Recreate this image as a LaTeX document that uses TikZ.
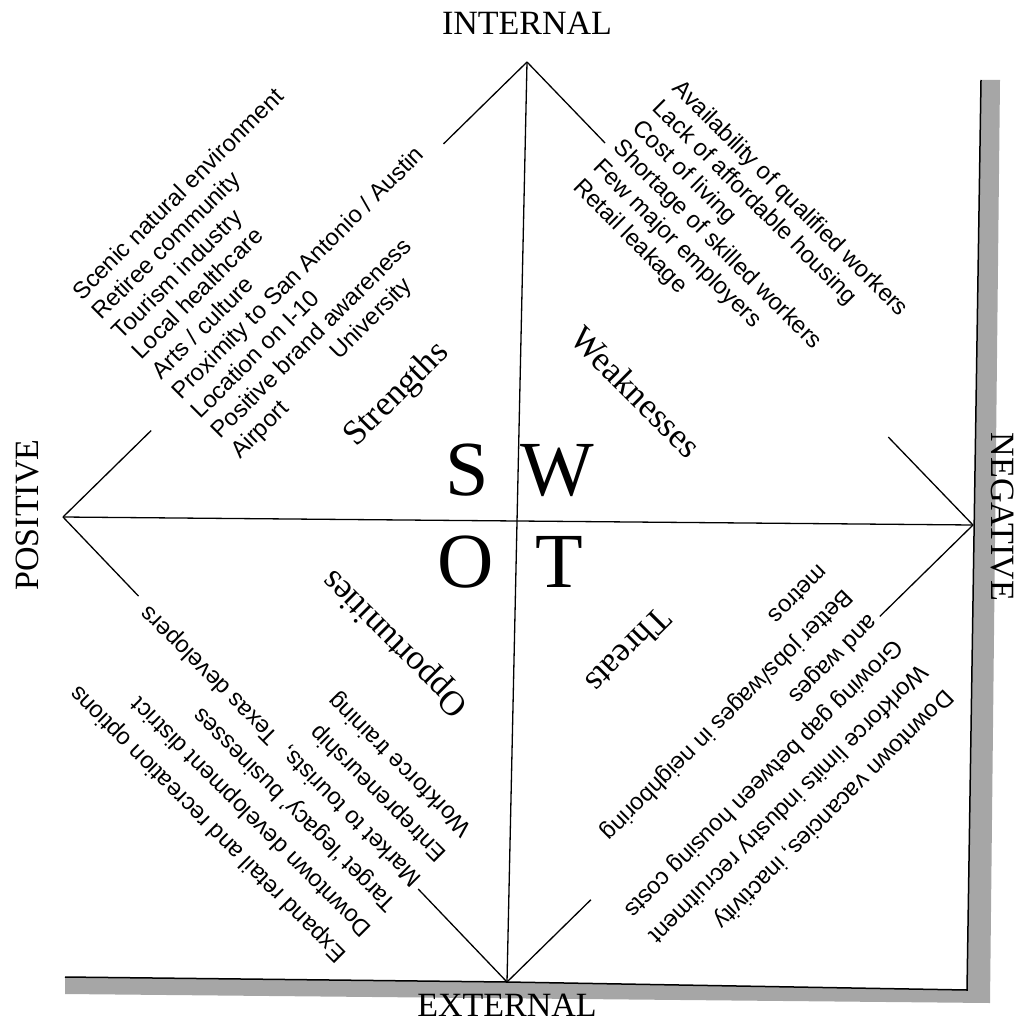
\documentclass[tikz,border=0pt]{standalone}
\usepackage{fontspec}
\setmainfont{Liberation Serif}
\newfontfamily\listfont{Liberation Sans}
\usepackage{tikz}
\usetikzlibrary{calc}
\tikzstyle{item} = [font=\listfont\fontsize{23.7}{28}\selectfont, align=left, inner sep=0pt, anchor=base west]
\tikzstyle{itemwide} = [item, font=\listfont\fontsize{23.7}{35.5}\selectfont]
\tikzstyle{heading} = [font=\fontsize{35}{40}\selectfont, inner sep=0pt]
\tikzstyle{letter} = [font=\fontsize{78}{80}\selectfont, inner sep=0pt, anchor=base]
\tikzstyle{axis} = [font=\fontsize{34}{40}\selectfont, inner sep=0pt]
\tikzstyle{shadow} = [fill=black!35, draw=none]

\begin{document}
\begin{tikzpicture}[x=1pt, y=-1pt, line width=1.3pt]
    \useasboundingbox (0,0) rectangle (1021,1035);
    % corners of the diamond
    \coordinate (top) at (527,62);
    \coordinate (left) at (63,517);
    \coordinate (right) at (973,525);
    \coordinate (bottom) at (507,982);

    % page shadow
    \fill [shadow] (981,80) -- (1000,80) -- (990,1003) -- (65,994) -- (65,977) -- (507,982) -- (967,990) -- cycle;
    \draw [line width=1.5pt] (981,80) -- (967,990) -- (507,982) -- (65,977);

    % axes
    \draw (left) -- (right);
    \draw (top) -- (bottom);

    % diamond, broken where the lists run
    \draw (left) -- ($(left)!0.19!(top)$);
    \draw ($(left)!0.82!(top)$) -- (top);
    \draw (top) -- ($(top)!0.175!(right)$);
    \draw ($(top)!0.81!(right)$) -- (right);
    \draw (right) -- ($(right)!0.20!(bottom)$);
    \draw ($(right)!0.82!(bottom)$) -- (bottom);
    \draw (left) -- ($(left)!0.17!(bottom)$);
    \draw ($(left)!0.80!(bottom)$) -- (bottom);

    % axis labels
    \node [axis, anchor=base] (internal) at (527,35) {INTERNAL};
    \node [axis, anchor=base] (external) at (507,1016) {EXTERNAL};
    \node [axis, rotate=90] (positive) at (28,515) {POSITIVE};
    \node [axis, rotate=-90] (negative) at (1002,517) {NEGATIVE};

    % SWOT letters
    \node [letter] (s) at (467,495) {S};
    \node [letter] (w) at (557,495) {W};
    \node [letter] (o) at (466,587) {O};
    \node [letter] (t) at (559,587) {T};

    % quadrant headings
    \node [heading, rotate=45] (strengths) at (397,395) {Strengths};
    \node [heading, rotate=-45] (weaknesses) at (636,392) {Weaknesses};
    \node [heading, rotate=135] (opportunities) at (396,642) {Opportunities};
    \node [heading, rotate=-135] (threats) at (629,651) {Threats};

    % lists (anchored at the start of their last line)
    \node [item, rotate=45] (slist) at (240,460) {Scenic natural environment\\ Retiree community\\ Tourism industry\\ Local healthcare\\ Arts / culture\\ Proximity to San Antonio / Austin\\ Location on I-10\\ Positive brand awareness\\ \makebox[140pt][l]{Airport}University};
    \node [item, rotate=-45] (wlist) at (572,188) {Availability of qualified workers\\ Lack of affordable housing\\ Cost of living\\ Shortage of skilled workers\\ Few major employers\\ Retail leakage};
    \node [itemwide, rotate=135] (olist) at (473,828) {Expand retail and recreation options\\ Downtown development district\\ Target ‘legacy’ businesses\\ Market to tourists,\ \ Texas developers\\ Entrepreneurship\\ Workforce training};
    \node [itemwide, rotate=-135] (tlist) at (819,563) {Downtown vacancies, inactivity\\ Workforce limits industry recruitment\\ Growing gap between housing costs\\ and wages\\ Better jobs/wages in neighboring\\ metros};
\end{tikzpicture}
\end{document}
